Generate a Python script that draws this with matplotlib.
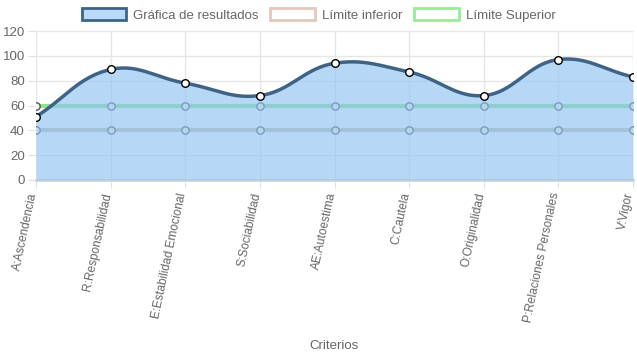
import matplotlib
matplotlib.use("Agg")
import matplotlib.pyplot as plt
import matplotlib.transforms as mtransforms
from matplotlib.patches import Patch
import numpy as np

plt.rcParams["font.family"] = ["Liberation Sans", "DejaVu Sans"]

criterios = ["A:Ascendencia", "R:Responsabilidad", "E:Estabilidad Emocional",
             "S:Sociabilidad", "AE:Autoestima", "C:Cautela", "O:Originalidad",
             "P:Relaciones Personales", "V:Vigor"]
resultados = [51, 89, 78, 68, 94, 87, 68, 97, 83]
limite_inferior = [40] * 9
limite_superior = [60] * 9

W, H = 637, 359
fig = plt.figure(figsize=(W / 100, H / 100), dpi=100)
ax = fig.add_axes([36 / W, 1 - 180 / H, (633 - 36) / W, (180 - 31) / H])

x = np.arange(len(criterios))
ax.set_xlim(0, len(criterios) - 1)
ax.set_ylim(0, 120)

# pixel scales for the chart.js-like spline
sx = (633 - 36) / (len(criterios) - 1)
sy = (180 - 31) / 120.0


def spline(xs, ys, tension=0.4, n=30):
    px = np.asarray(xs, float) * sx
    py = np.asarray(ys, float) * sy
    m = len(px)
    cp_prev = np.zeros((m, 2))
    cp_next = np.zeros((m, 2))
    for i in range(m):
        p0 = np.array([px[max(i - 1, 0)], py[max(i - 1, 0)]])
        p1 = np.array([px[i], py[i]])
        p2 = np.array([px[min(i + 1, m - 1)], py[min(i + 1, m - 1)]])
        d01 = np.hypot(*(p1 - p0))
        d12 = np.hypot(*(p2 - p1))
        tot = d01 + d12
        s01 = d01 / tot if tot else 0
        s12 = d12 / tot if tot else 0
        cp_prev[i] = p1 - tension * s01 * (p2 - p0)
        cp_next[i] = p1 + tension * s12 * (p2 - p0)
    outx, outy = [], []
    t = np.linspace(0, 1, n)
    for i in range(m - 1):
        a = np.array([px[i], py[i]])
        b = cp_next[i]
        c = cp_prev[i + 1]
        d = np.array([px[i + 1], py[i + 1]])
        seg = ((1 - t) ** 3)[:, None] * a + (3 * (1 - t) ** 2 * t)[:, None] * b \
            + (3 * (1 - t) * t ** 2)[:, None] * c + (t ** 3)[:, None] * d
        outx.extend(seg[:, 0])
        outy.extend(seg[:, 1])
    return np.array(outx) / sx, np.array(outy) / sy


# grid
ax.set_yticks(np.arange(0, 121, 20))
ax.set_xticks(x)
ax.grid(True, color="#e6e6e6", linewidth=1)
ax.set_axisbelow(True)
for s in ["top", "right", "left"]:
    ax.spines[s].set_visible(False)
ax.spines["bottom"].set_color("#d4d4d4")
ax.spines["bottom"].set_linewidth(2)
ax.tick_params(axis="both", colors="#e0e0e0", labelcolor="#666666", length=6,
               labelsize=9.5)
ax.tick_params(axis="y", pad=2)
ax.set_xticklabels(criterios, rotation=78, ha="right", va="center_baseline",
                   rotation_mode="anchor", fontsize=8.6)
ax.tick_params(axis="x", pad=3)
shift = mtransforms.ScaledTranslation(-4 / 100, 0, fig.dpi_scale_trans)
for lbl in ax.get_xticklabels():
    lbl.set_transform(lbl.get_transform() + shift)

# limit lines (drawn under the filled area)
ax.plot(x, limite_superior, color="#8fe38f", linewidth=3, zorder=2)
ax.plot(x, limite_inferior, color="#c9bdb3", linewidth=3, zorder=2)
ax.scatter(x, limite_superior, s=28, facecolor="#f5f5f5", edgecolor="#555555",
           linewidth=1, zorder=2.5)
ax.scatter(x, limite_inferior, s=28, facecolor="#f5f5f5", edgecolor="#555555",
           linewidth=1, zorder=2.5)

# results
cx, cy = spline(x, resultados)
ax.fill_between(cx, 0, cy, color="#90c4f2", alpha=0.65, linewidth=0, zorder=3)
ax.plot(cx, cy, color="#3f6385", linewidth=2.5, zorder=4)
ax.scatter(x, resultados, s=30, facecolor="white", edgecolor="black",
           linewidth=1, zorder=5)

handles = [
    Patch(facecolor="#b9dbf8", edgecolor="#3f6385", linewidth=2),
    Patch(facecolor="white", edgecolor="#e3c8bb", linewidth=2),
    Patch(facecolor="white", edgecolor="#98ec98", linewidth=2),
]
fig.legend(handles, ["Gráfica de resultados", "Límite inferior", "Límite Superior"],
           loc="center", bbox_to_anchor=(0.5, 1 - 15 / H), ncol=3, frameon=False,
           fontsize=9.5, handlelength=3.4, handleheight=1.0, columnspacing=0.9,
           handletextpad=0.5, labelcolor="#666666")

fig.text(0.525, 1 - 346 / H, "Criterios", ha="center", va="center",
         fontsize=9.5, color="#666666")

fig.savefig("out.png", dpi=100)
